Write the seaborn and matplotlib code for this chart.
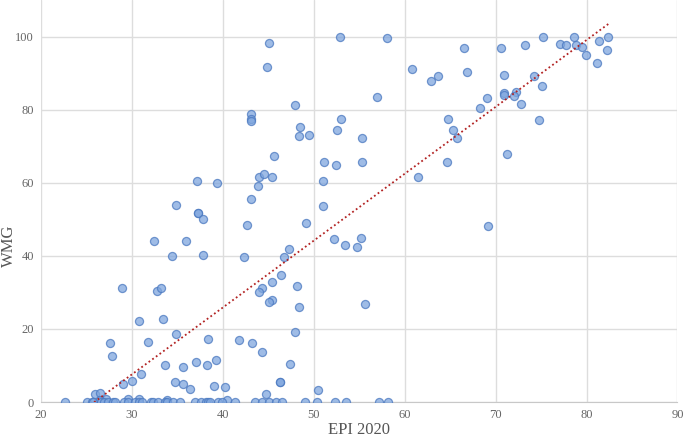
import numpy as np
import pandas as pd
import seaborn as sns
import matplotlib.pyplot as plt

# EPI 2020 score vs WMG score
epi = [37.1, 39.3, 34.8, 37.25, 37.3, 37.8,
       45.05, 44.8, 52.86, 58.1, 60.8, 62.9, 63.65, 57.0, 47.9,
       43.1, 43.1, 43.1, 48.5, 48.4, 49.5, 52.96, 52.6, 55.3,
       64.75, 65.3, 65.7, 45.6, 43.96, 44.5, 45.4, 43.85, 43.1,
       51.1, 52.4, 55.3, 50.96, 50.96, 61.5, 64.7,
       66.5, 70.6, 73.25, 75.25, 77.1, 77.7, 78.6, 78.8, 79.5, 79.96,
       81.4, 82.4, 82.25, 81.2, 66.9, 70.95, 74.2, 75.1, 70.95, 70.95,
       72.2, 71.97, 69.1, 68.3, 72.8, 74.8, 71.2, 69.2,
       32.4, 35.9, 34.4, 37.76, 28.9, 32.7, 33.2, 33.4, 30.8,
       27.55, 27.8, 31.8, 34.8, 38.4, 41.8,
       33.6, 35.6, 37.0, 38.3, 39.2, 29.05, 29.96, 30.97, 34.7, 35.6,
       36.4, 39.0, 40.2, 25.9, 26.45, 40.4, 30.8, 29.6, 33.9, 27.1, 26.45,
       42.6, 49.1, 52.2, 53.4, 54.76, 55.2, 47.3, 42.3, 46.7, 46.4,
       45.4, 48.15, 44.3, 43.96, 45.4, 45.05, 48.4, 55.6, 47.97, 43.2,
       44.3, 47.4, 46.3, 46.3, 50.45, 44.7,
       22.63, 25.07, 25.55, 25.7, 26.6, 26.9, 27.4, 27.9, 28.1, 29.1,
       29.55, 30.3, 30.8, 31.1, 32.1, 32.3, 32.9, 33.6, 33.9, 34.5,
       35.3, 36.9, 37.6, 38.1, 38.4, 38.6, 39.5, 39.9, 41.3,
       43.5, 44.3, 45.1, 45.8, 46.5, 49.0, 50.3, 52.3, 53.5, 57.2, 58.2]
wmg = [60.4, 59.8, 53.8, 51.8, 51.8, 50.0,
       98.1, 91.7, 100.0, 99.6, 91.0, 87.8, 89.1, 83.5, 81.4,
       78.9, 77.4, 77.0, 75.2, 72.9, 73.05, 77.5, 74.3, 72.2,
       77.5, 74.3, 72.2, 67.3, 61.6, 62.4, 61.6, 59.2, 55.5,
       65.8, 64.9, 65.8, 60.5, 53.6, 61.6, 65.8,
       96.9, 96.9, 97.8, 100.0, 97.9, 97.7, 99.9, 97.7, 97.2, 94.9,
       98.9, 99.9, 96.2, 92.9, 90.2, 89.6, 89.1, 86.6, 84.6, 83.9,
       84.9, 83.7, 83.2, 80.5, 81.6, 77.3, 67.9, 48.2,
       44.0, 44.1, 40.0, 40.3, 31.3, 30.5, 31.1, 22.7, 22.1,
       16.1, 12.5, 16.5, 18.6, 17.3, 17.0,
       10.1, 9.7, 10.9, 10.1, 11.4, 5.0, 5.8, 7.7, 5.6, 5.0,
       3.5, 4.4, 4.1, 2.2, 2.4, 0.6, 0.9, 0.9, 0.5, 0.9, 0.5,
       48.4, 48.9, 44.6, 43.1, 42.5, 44.8, 42.0, 39.7, 39.7, 34.9,
       32.8, 31.7, 31.1, 30.0, 27.9, 27.3, 26.0, 26.8, 19.15, 16.3,
       13.7, 10.3, 5.5, 5.5, 3.3, 2.2,
       0, 0, 0, 0, 0, 0, 0, 0, 0, 0,
       0, 0, 0, 0, 0, 0, 0, 0, 0, 0,
       0, 0, 0, 0, 0, 0, 0, 0, 0,
       0, 0, 0, 0, 0, 0, 0, 0, 0, 0, 0]

df = pd.DataFrame({"EPI 2020": epi, "WMG": wmg})

sns.set_style("white")
plt.rcParams['font.family'] = ['Liberation Serif', 'DejaVu Serif']

fig = plt.figure(figsize=(6.85, 4.38), dpi=100)
ax = fig.add_axes([0.06, 0.082, 0.929, 0.918])

sns.scatterplot(data=df, x="EPI 2020", y="WMG", ax=ax, s=34,
                color="#7FA6DE", edgecolor="#4A78C0", linewidth=0.9,
                alpha=0.75, zorder=3)

# linear trendline over the data range
slope, icpt = np.polyfit(df["EPI 2020"], df["WMG"], 1)
xs = np.array([df["EPI 2020"].min(), df["EPI 2020"].max()])
sns.lineplot(x=xs, y=slope * xs + icpt, ax=ax, color="#B22222",
             linestyle=(0, (1, 1.5)), linewidth=1.3, zorder=4)

ax.set_xlim(20, 90)
ax.set_ylim(0, 110)
ax.set_xticks(range(20, 91, 10))
ax.set_yticks(range(0, 101, 20))
ax.grid(True, color="#DDDDDD", linewidth=1)
ax.set_axisbelow(True)
for side in ["top", "right", "left"]:
    ax.spines[side].set_visible(False)
ax.spines["bottom"].set_color("#C8C8C8")
ax.tick_params(axis="both", length=0, labelsize=9, colors="#666666", pad=5)

ax.set_xlabel("EPI 2020", fontsize=12, color="#555555", labelpad=1)
ax.set_ylabel("WMG", fontsize=12, color="#555555")
ax.yaxis.set_label_coords(-0.038, 0.39)

fig.savefig("out.png", dpi=100)
